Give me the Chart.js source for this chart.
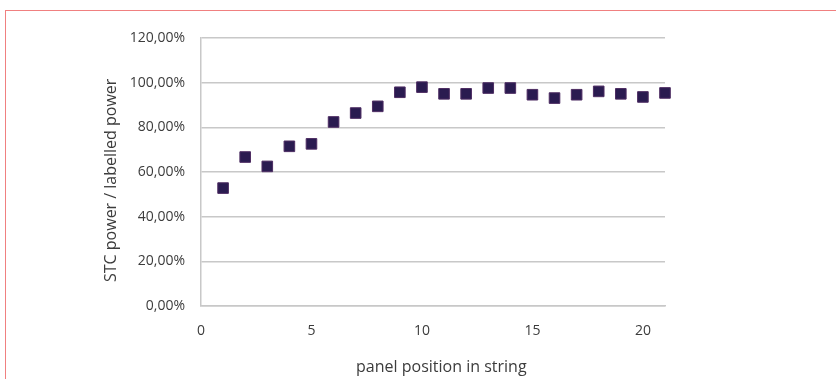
<!DOCTYPE html>
<html>
<head>
<meta charset="utf-8">
<script src="https://cdn.jsdelivr.net/npm/chart.js@4"></script>
<style>
    html, body { margin: 0; padding: 0; background: #fff; overflow: hidden; }
    #frame {
        position: absolute; left: 5px; top: 10px; width: 900px; height: 450px;
        border-left: 1.5px solid #f08080; border-top: 1.5px solid #f08080;
    }
    #wrap { position: absolute; left: 0; top: 0; width: 836px; height: 379px; }
</style>
</head>
<body>
<div id="frame"></div>
<div id="wrap"><canvas id="chart"></canvas></div>
<script>
// panel position in string
const positions = [1, 2, 3, 4, 5, 6, 7, 8, 9, 10, 11, 12, 13, 14, 15, 16, 17, 18, 19, 20, 21];
// STC power / labelled power, in %
const ratios = [52.8, 66.7, 62.5, 71.5, 72.6, 82.4, 86.4, 89.4, 95.7, 98.0, 95.0,
                95.0, 97.6, 97.6, 94.6, 93.1, 94.6, 96.1, 95.0, 93.6, 95.4];
const yTicks = [0, 20, 40, 60, 80, 100, 120];
const xTicks = [0, 5, 10, 15, 20];

const textColor = '#3c3c3c';
const gridColor = '#c8c8c8';
const tickFont = { family: '"Open Sans", sans-serif', size: 14 };
const titleFont = { family: '"Open Sans", sans-serif', size: 16 };

document.addEventListener('DOMContentLoaded', () => {
    initializeChart();
});

function initializeChart() {
    new Chart(document.getElementById('chart'), {
        type: 'scatter',
        data: {
            datasets: [{
                label: 'STC power / labelled power',
                data: positions.map((p, i) => ({ x: p, y: ratios[i] })),
                pointStyle: 'rect',
                pointRadius: 7.5,
                pointHoverRadius: 7.5,
                backgroundColor: '#2a1b50',
                borderColor: '#4e2d63',
                borderWidth: 1,
                clip: false
            }]
        },
        options: {
            responsive: true,
            maintainAspectRatio: false,
            animation: false,
            layout: { padding: { left: 102, top: 38, right: 171, bottom: 2 } },
            plugins: { legend: { display: false }, tooltip: { enabled: false } },
            scales: {
                x: {
                    type: 'linear',
                    min: 0,
                    max: 21,
                    afterFit: scale => { scale.height = 71; },
                    afterBuildTicks: scale => { scale.ticks = xTicks.map(v => ({ value: v })); },
                    grid: { display: false, drawTicks: false },
                    border: { display: true, color: gridColor, width: 1.5 },
                    ticks: { color: textColor, font: tickFont, padding: 17 },
                    title: {
                        display: true,
                        // leading spaces nudge the title right, as in the original
                        text: '    panel position in string',
                        color: textColor,
                        font: titleFont,
                        padding: { top: 0, bottom: 0 }
                    }
                },
                y: {
                    min: 0,
                    max: 120,
                    afterFit: scale => { scale.width = 99; },
                    afterBuildTicks: scale => { scale.ticks = yTicks.map(v => ({ value: v })); },
                    grid: { color: gridColor, lineWidth: 1.5, drawTicks: false },
                    border: { display: true, color: gridColor, width: 1.5 },
                    ticks: {
                        color: textColor,
                        font: tickFont,
                        padding: 16,
                        callback: v => v.toFixed(2).replace('.', ',') + '%'
                    },
                    title: {
                        display: true,
                        text: 'STC power / labelled power    ',
                        color: textColor,
                        font: titleFont,
                        padding: { top: 0, bottom: 0 }
                    }
                }
            }
        }
    });
}
</script>
</body>
</html>
